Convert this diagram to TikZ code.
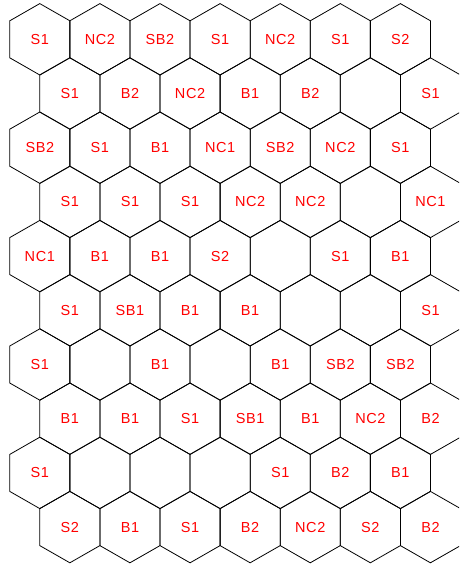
\documentclass[tikz,border=0pt]{standalone}
\usepackage{fontspec}
\setmainfont{Liberation Sans}[LetterSpace=4]
\begin{document}
\begin{tikzpicture}[x=1pt,y=-1pt,
  hexline/.style={draw=black,line width=0.8pt,line join=miter},
  lab/.style={text=red,font=\fontsize{14.5}{14.5}\selectfont,inner sep=0pt}]
\useasboundingbox (0,0) rectangle (459,567);
\clip (0,0) rectangle (459,567);
\def\ha{30.05}
\def\hr{17.2}
\def\hv{18.5}
\foreach \row [count=\i from 0] in {
  {S1,NC2,SB2,S1,NC2,S1,S2},
  {S1,B2,NC2,B1,B2,{},S1},
  {SB2,S1,B1,NC1,SB2,NC2,S1},
  {S1,S1,S1,NC2,NC2,{},NC1},
  {NC1,B1,B1,S2,{},S1,B1},
  {S1,SB1,B1,B1,{},{},S1},
  {S1,{},B1,{},B1,SB2,SB2},
  {B1,B1,S1,SB1,B1,NC2,B2},
  {S1,{},{},{},S1,B2,B1},
  {S2,B1,S1,B2,NC2,S2,B2}}{
  \foreach \lab [count=\j from 0] in \row {
    \pgfmathsetmacro{\xc}{39.8+60.1*\j+30.05*mod(\i,2)}
    \pgfmathsetmacro{\yc}{39.3+54.2*\i}
    \draw[hexline,shift={(\xc,\yc)}]
      (0,-\hv-\hr) -- (\ha,-\hv) -- (\ha,\hv) -- (0,\hv+\hr)
      -- (-\ha,\hv) -- (-\ha,-\hv) -- cycle;
    \node[lab] (h-\i-\j) at (\xc,\yc) {\lab};
  }
}
\end{tikzpicture}
\end{document}
